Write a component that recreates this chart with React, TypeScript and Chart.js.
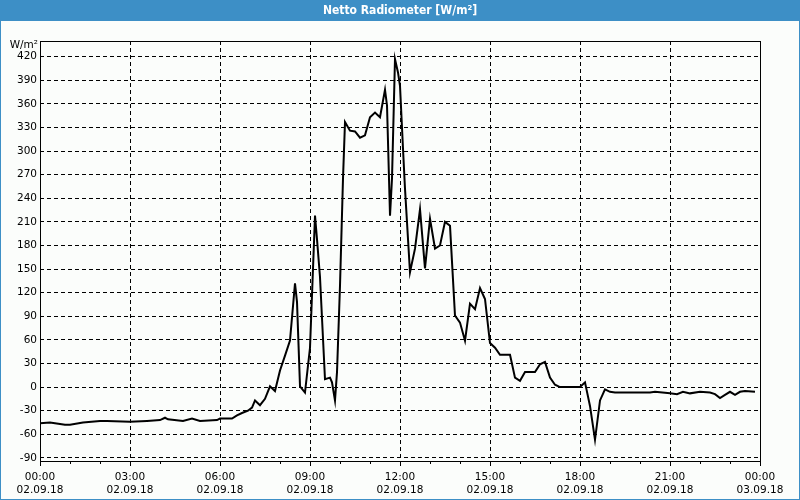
import React, { useEffect, useRef } from "react";
import { Chart, registerables } from "chart.js";
Chart.register(...registerables);

const TITLE = "Netto Radiometer [W/m²]";
const UNIT = "W/m²";

// time of day in hours (02.09.18 00:00 = 0)
const hours = [
  0.0, 0.333, 0.667, 0.833, 1.0, 1.433, 2.0, 2.233, 3.0, 3.567, 4.0, 4.167, 4.267, 4.767, 5.067, 5.333,
  5.9, 6.0, 6.4, 6.567, 6.733, 6.933, 7.067, 7.167, 7.333, 7.5, 7.667, 7.833, 8.0, 8.167, 8.333, 8.5,
  8.567, 8.667, 8.833, 9.0, 9.167, 9.233, 9.333, 9.5, 9.667, 9.733, 9.833, 9.9, 10.0, 10.1, 10.167,
  10.333, 10.5, 10.667, 10.833, 11.0, 11.167, 11.333, 11.5, 11.567, 11.667, 11.733, 11.833, 11.933,
  12.0, 12.1, 12.167, 12.333, 12.5, 12.667, 12.833, 13.0, 13.167, 13.333, 13.5, 13.667, 13.833, 14.0,
  14.167, 14.333, 14.5, 14.667, 14.833, 15.0, 15.167, 15.333, 15.667, 15.833, 16.0, 16.167, 16.5,
  16.667, 16.833, 17.0, 17.167, 17.333, 18.0, 18.167, 18.333, 18.5, 18.667, 18.833, 19.0, 19.167,
  20.333, 20.5, 21.0, 21.233, 21.433, 21.667, 22.0, 22.333, 22.5, 22.667, 22.833, 23.0, 23.167,
  23.333, 23.5, 23.833,
];
const values = [
  -46, -45, -47, -48, -48, -45, -43, -43, -44, -43, -42, -39, -41, -43, -40, -43,
  -42, -40, -40, -36, -33, -30, -26, -17, -23, -15, 1, -5, 21, 40, 59, 132,
  108, 1, -7, 50, 218, 188, 140, 10, 12, 6, -17, 19, 129, 265, 337,
  326, 325, 317, 320, 343, 349, 343, 378, 358, 218, 265, 417, 400,
  383, 303, 252, 146, 176, 226, 151, 214, 176, 180, 210, 205, 91, 82,
  59, 106, 99, 126, 112, 56, 50, 41, 41, 12, 8, 19, 19,
  29, 32, 12, 3, 0, 0, 6, -24, -67, -17, -3, -6, -7,
  -7, -6, -8, -9, -6, -8, -6, -7, -9, -14, -10, -6, -10,
  -6, -5, -6,
];

const yTickValues = [-90, -60, -30, 0, 30, 60, 90, 120, 150, 180, 210, 240, 270, 300, 330, 360, 390, 420];
const xTickHours = [0, 3, 6, 9, 12, 15, 18, 21, 24];
const xTickTimes = ["00:00", "03:00", "06:00", "09:00", "12:00", "15:00", "18:00", "21:00", "00:00"];
const xTickDates = ["02.09.18", "02.09.18", "02.09.18", "02.09.18", "02.09.18", "02.09.18", "02.09.18", "02.09.18", "03.09.18"];

const Y_MIN = -94;
const Y_MAX = 440;
const BLUE = "#3d8fc6";
const BG = "#fbfdfb";
const FONT_FAMILY = '"DejaVu Sans", sans-serif';
const FONT_SIZE = 10.5;

const framePlugin = {
  id: "frame",
  beforeDraw(chart: any) {
    const { ctx, width, height } = chart;
    ctx.save();
    ctx.fillStyle = BG;
    ctx.fillRect(0, 0, width, height);
    ctx.fillStyle = BLUE;
    ctx.fillRect(0, 0, width, 21);
    ctx.fillRect(0, 0, 1, height);
    ctx.fillRect(width - 1, 0, 1, height);
    ctx.fillRect(0, height - 1, width, 1);
    ctx.fillStyle = "#ffffff";
    ctx.font = 'bold 12px "Liberation Sans Narrow", "DejaVu Sans Condensed", "DejaVu Sans", sans-serif';
    ctx.textAlign = "center";
    ctx.textBaseline = "middle";
    ctx.fillText(TITLE, width / 2, 11);
    ctx.restore();
  },
  afterDraw(chart: any) {
    const { ctx, chartArea } = chart;
    const { left, right, top, bottom } = chartArea;
    ctx.save();
    ctx.strokeStyle = "#000";
    ctx.lineWidth = 1;
    ctx.setLineDash([]);
    ctx.strokeRect(Math.round(left) + 0.5, Math.round(top) + 0.5, Math.round(right - left), Math.round(bottom - top));
    const xs = chart.scales.x;
    ctx.beginPath();
    for (let h = 0; h <= 24; h++) {
      if (h % 3 === 0) continue;
      const px = Math.round(xs.getPixelForValue(h)) + 0.5;
      ctx.moveTo(px, bottom);
      ctx.lineTo(px, bottom + 3);
    }
    ctx.stroke();
    ctx.fillStyle = "#000";
    ctx.font = `${FONT_SIZE}px ${FONT_FAMILY}`;
    ctx.textAlign = "right";
    ctx.textBaseline = "middle";
    ctx.fillText(UNIT, left - 2, top + 4);
    ctx.restore();
  },
};

export default function App() {
  const ref = useRef<HTMLCanvasElement | null>(null);
  useEffect(() => {
    if (!ref.current) return;
    const chart = new Chart(ref.current, {
      type: "line",
      data: {
        datasets: [
          {
            data: hours.map((h, i) => ({ x: h, y: values[i] })),
            borderColor: "#000",
            borderWidth: 2,
            pointRadius: 0,
            tension: 0,
            fill: false,
          },
        ],
      },
      options: {
        responsive: false,
        animation: false,
        devicePixelRatio: 1,
        layout: { padding: { left: 0, right: 40, top: 41, bottom: 0 } },
        plugins: { legend: { display: false }, tooltip: { enabled: false }, title: { display: false } },
        scales: {
          x: {
            type: "linear",
            min: 0,
            max: 24,
            afterBuildTicks: (s: any) => {
              s.ticks = xTickHours.map((v) => ({ value: v }));
            },
            afterFit: (s: any) => {
              s.height = 39;
            },
            grid: { color: "#000", lineWidth: 1, drawTicks: true, tickLength: 5, tickColor: "#000" },
            border: { display: false, dash: [4, 3] },
            ticks: {
              color: "#000",
              font: { family: FONT_FAMILY, size: FONT_SIZE, lineHeight: 1.3 },
              padding: 4,
              maxRotation: 0,
              autoSkip: false,
              callback: (v: any) => {
                const i = xTickHours.indexOf(Number(v));
                return i >= 0 ? [xTickTimes[i], xTickDates[i]] : "";
              },
            },
          },
          y: {
            type: "linear",
            min: Y_MIN,
            max: Y_MAX,
            afterBuildTicks: (s: any) => {
              s.ticks = yTickValues.map((v) => ({ value: v }));
            },
            afterFit: (s: any) => {
              s.width = 40;
            },
            grid: { color: "#000", lineWidth: 1, drawTicks: false },
            border: { display: false, dash: [4, 3] },
            ticks: {
              color: "#000",
              font: { family: FONT_FAMILY, size: FONT_SIZE },
              padding: 3,
              autoSkip: false,
            },
          },
        },
      },
      plugins: [framePlugin],
    });
    return () => chart.destroy();
  }, []);
  return (
    <div style={{ position: "fixed", left: 0, top: 0, width: 800, height: 500 }}>
      <canvas ref={ref} width={800} height={500} style={{ display: "block", width: 800, height: 500 }} />
    </div>
  );
}
